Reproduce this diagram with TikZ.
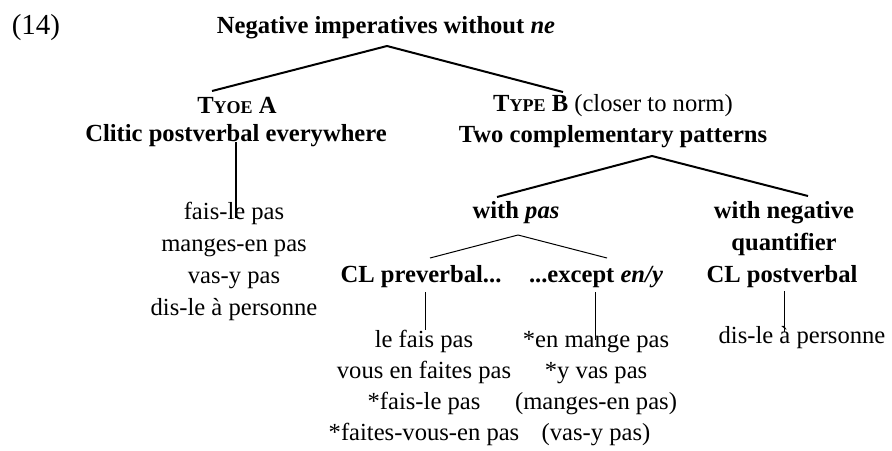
\documentclass[tikz,border=0pt]{standalone}
\usepackage{fontspec}
\setmainfont{Liberation Serif}
\usepackage{tikz}
\usetikzlibrary{calc}
\newcommand{\smc}[1]{{\fontsize{9}{9}\selectfont #1}}
\tikzset{%
  hd/.style = {anchor=base,inner sep=0pt,align=center,
        font=\fontsize{12.3}{16}\selectfont\bfseries},
  leaf/.style = {anchor=base,inner sep=0pt,align=center,
        font=\fontsize{12.3}{16}\selectfont},
  low/.style = {anchor=base,inner sep=0pt,align=center,
        font=\fontsize{12.3}{15.5}\selectfont},
  br/.style = {line width=1pt},
  tbr/.style = {line width=0.5pt}
}
\begin{document}
\begin{tikzpicture}[x=0.5pt,y=-0.5pt]
                \useasboundingbox (0,0) rectangle (892,450);
                \node[anchor=base,inner sep=0pt,font=\fontsize{14.5}{16}\selectfont] (ex) at (36,34) {(14)};
                \node[hd] (top) at (386,33) {Negative imperatives without \textit{ne}};

                % multi-line nodes sit on their last line
                \node[hd] (typeA) at (237,113) {T\smc{YOE} A};
                \node[hd] (typeAsub) at (236,141) {Clitic postverbal everywhere};
                \node[leaf] (listA) at (234,315) {fais-le pas\\manges-en pas\\vas-y pas\\dis-le à personne};

                \node[hd] (typeB) at (613,111) {T\smc{YPE} B \textmd{(closer to norm)}};
                \node[hd] (typeBsub) at (613,142) {Two complementary patterns};
                \node[hd] (withpas) at (516,218) {with \textit{pas}};
                \node[hd] (withneg) at (784,250) {with negative\\quantifier};
                \node[hd] (clpre) at (421,282) {CL preverbal...};
                \node[hd] (except) at (596,282) {...except \textit{en/y}};
                \node[hd] (clpost) at (782,282) {CL postverbal};

                \node[low] (listB) at (424,440) {le fais pas\\vous en faites pas\\*fais-le pas\\*faites-vous-en pas};
                \node[low] (listC) at (596,440) {*en mange pas\\*y vas pas\\(manges-en pas)\\(vas-y pas)};
                \node[leaf] (listD) at (802,343) {dis-le à personne};

                \draw[br] ($(top.base)+(1,13)$) -- ($(typeA.base)+(-25,-22)$);
                \draw[br] ($(top.base)+(1,13)$) -- ($(typeB.base)+(-50,-19)$);
                \draw[br] ($(typeAsub.base)+(0,1)$) -- ($(listA.base)+(2,-97)$);
                \draw[br] ($(typeBsub.base)+(39,14)$) -- ($(withpas.base)+(-19,-21)$);
                \draw[br] ($(typeBsub.base)+(39,14)$) -- ($(withneg.base)+(24,-54)$);
                \draw[tbr] ($(withpas.base)+(2,17)$) -- ($(clpre.base)+(9,-24)$);
                \draw[tbr] ($(withpas.base)+(2,17)$) -- ($(except.base)+(11,-24)$);
                \draw[tbr] ($(clpre.base)+(4,10)$) -- ($(listB.base)+(1,-110)$);
                \draw[tbr] ($(except.base)+(-1,10)$) -- ($(listC.base)+(-1,-100)$);
                \draw[tbr] ($(clpost.base)+(2,9)$) -- ($(listD.base)+(-18,-11)$);
\end{tikzpicture}
\end{document}
